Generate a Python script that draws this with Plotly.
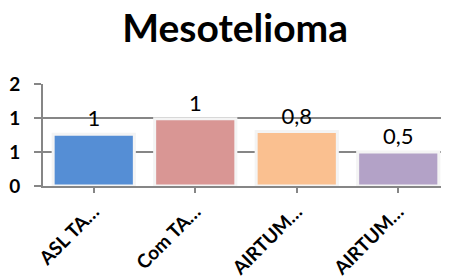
import plotly.graph_objects as go

categories = ["ASL TA…", "Com TA…", "AIRTUM…", "AIRTUM…"]
values = [0.76, 0.99, 0.80, 0.50]
value_labels = ["1", "1", "0,8", "0,5"]
colors = ["#558ED5", "#D99694", "#FAC090", "#B3A2C7"]
y_tickvals = [0, 0.5, 1.0, 1.5]
y_ticktext = ["0", "1", "1", "2"]

fig = go.Figure()
fig.add_trace(go.Bar(
    x=list(range(len(categories))),
    y=values,
    text=value_labels,
    textposition="outside",
    textfont=dict(family="Lato", size=22, color="black"),
    marker=dict(color=colors, line=dict(color="#F4F4F4", width=3)),
    cliponaxis=False,
    width=0.8,
))

# page body has an 8px default margin, so the figure is sized 441x269
fig.update_layout(
    width=441, height=269,
    margin=dict(l=35, r=0, t=76, b=91, autoexpand=False),
    paper_bgcolor="white", plot_bgcolor="white",
    showlegend=False,
    title=dict(text="<b>Mesotelioma</b>", x=0.515, xanchor="center", y=0.925, yanchor="middle",
               font=dict(family="Lato", size=39, color="black")),
    bargap=0.2,
)
fig.update_xaxes(
    automargin=False,
    tickmode="array", tickvals=list(range(len(categories))), ticktext=categories,
    tickangle=-45, range=[-0.5, 3.5],
    tickfont=dict(family="Lato", size=19, color="black", weight="bold"),
    showline=True, linecolor="#868686", linewidth=2,
    ticks="outside", ticklen=5, tickwidth=2, tickcolor="#868686",
    showgrid=False, zeroline=False,
)
fig.update_yaxes(
    automargin=False,
    range=[0, 1.5], tickmode="array", tickvals=y_tickvals, ticktext=y_ticktext,
    tickfont=dict(family="Lato", size=19, color="black", weight="bold"),
    showline=True, linecolor="#868686", linewidth=2,
    ticks="outside", ticklen=7, tickwidth=2, tickcolor="#868686",
    showgrid=True, gridcolor="#868686", gridwidth=2,
    zeroline=False, ticklabelstandoff=10,
)
fig.write_html("out.html")
